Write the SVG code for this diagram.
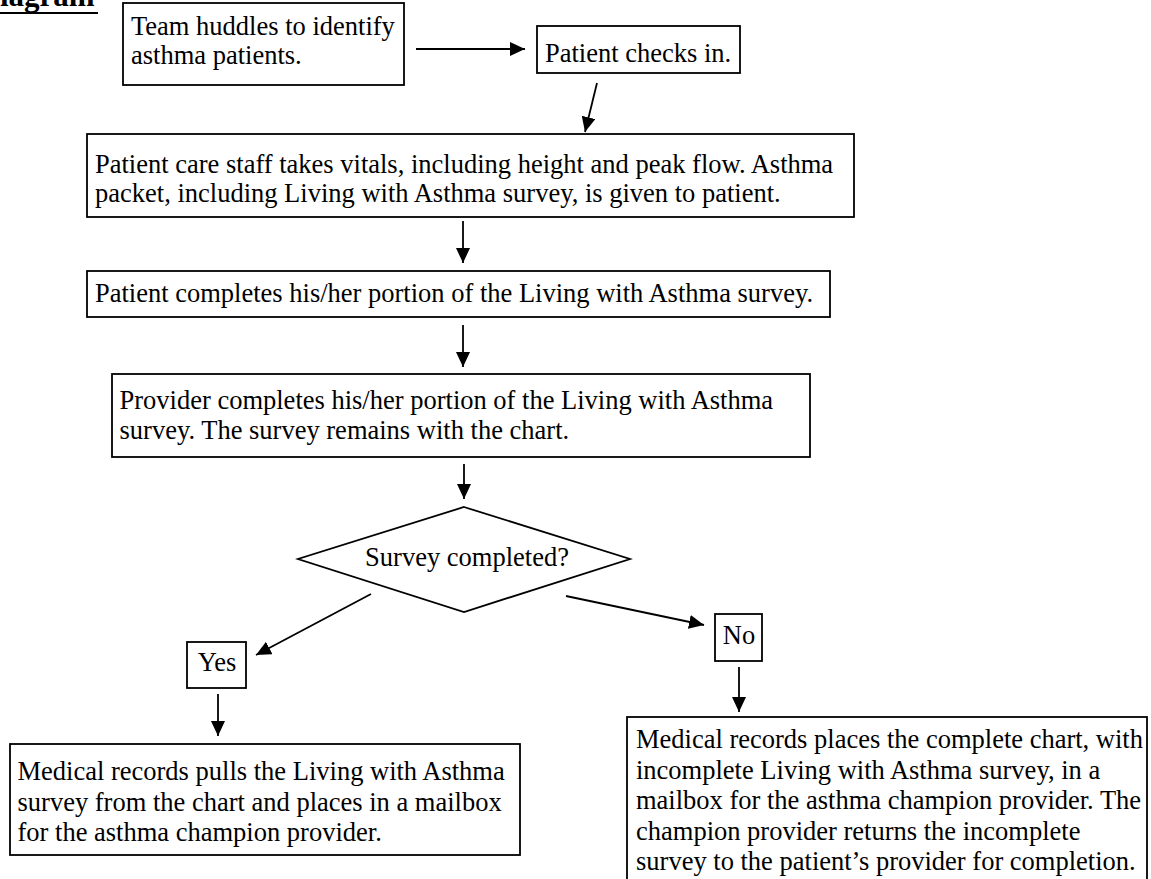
<svg xmlns="http://www.w3.org/2000/svg" width="1151" height="879" viewBox="0 0 1151 879">
<style>
  .box { fill: #fff; stroke: #000; stroke-width: 1.8; }
  .t { font-family: "Liberation Serif", "Times New Roman", serif; font-size: 26.5px; fill: #000; }
  .conn { stroke: #000; stroke-width: 1.8; fill: none; marker-end: url(#arr); }
  .title { font-family: "Liberation Serif", "Times New Roman", serif; font-size: 31px; font-weight: bold; fill: #000; }
</style>
<defs>
  <marker id="arr" markerUnits="userSpaceOnUse" markerWidth="16" markerHeight="14" refX="15" refY="7" orient="auto">
    <path d="M0,0 L15,7 L0,14 z" fill="#000"/>
  </marker>
</defs>
<rect x="0" y="0" width="1151" height="879" fill="#fff"/>

<g id="title">
  <text class="title" x="0" y="6">iagram</text>
  <line x1="0" y1="13" x2="98" y2="13" stroke="#000" stroke-width="2"/>
</g>

<g id="connectors">
  <line class="conn" x1="416" y1="49" x2="525" y2="49"/>
  <line class="conn" x1="597" y1="83" x2="585" y2="132"/>
  <line class="conn" x1="463" y1="221" x2="463" y2="263"/>
  <line class="conn" x1="463" y1="325" x2="463" y2="367"/>
  <line class="conn" x1="464" y1="464" x2="464" y2="499"/>
  <line class="conn" x1="371" y1="594" x2="256" y2="655"/>
  <line class="conn" x1="566" y1="596" x2="704" y2="625"/>
  <line class="conn" x1="218" y1="694" x2="218" y2="736"/>
  <line class="conn" x1="739" y1="667" x2="739" y2="712"/>
</g>

<g id="n1">
  <rect class="box" x="123" y="3" width="281" height="82"/>
  <text class="t" x="131" y="35">Team huddles to identify</text>
  <text class="t" x="131" y="64">asthma patients.</text>
</g>

<g id="n2">
  <rect class="box" x="537" y="26" width="203" height="47"/>
  <text class="t" x="545" y="62">Patient checks in.</text>
</g>

<g id="n3">
  <rect class="box" x="87" y="134" width="767" height="83"/>
  <text class="t" x="95" y="173">Patient care staff takes vitals, including height and peak flow. Asthma</text>
  <text class="t" x="95" y="202">packet, including Living with Asthma survey, is given to patient.</text>
</g>

<g id="n4">
  <rect class="box" x="87" y="271" width="743" height="46"/>
  <text class="t" x="95" y="302">Patient completes his/her portion of the Living with Asthma survey.</text>
</g>

<g id="n5">
  <rect class="box" x="112" y="374" width="698" height="83"/>
  <text class="t" x="119.5" y="408.5">Provider completes his/her portion of the Living with Asthma</text>
  <text class="t" x="119.5" y="439">survey. The survey remains with the chart.</text>
</g>

<g id="decision">
  <polygon class="box" points="464,507 630,559 464,612 298,559"/>
  <text class="t" x="467" y="566" text-anchor="middle">Survey completed?</text>
</g>

<g id="yes">
  <rect class="box" x="187" y="642" width="59" height="46"/>
  <text class="t" x="217" y="671" text-anchor="middle">Yes</text>
</g>

<g id="no">
  <rect class="box" x="715" y="614" width="47" height="47"/>
  <text class="t" x="739" y="644" text-anchor="middle">No</text>
</g>

<g id="n6">
  <rect class="box" x="10" y="744" width="510" height="111"/>
  <text class="t" x="17.5" y="780">Medical records pulls the Living with Asthma</text>
  <text class="t" x="17.5" y="810.5">survey from the chart and places in a mailbox</text>
  <text class="t" x="17.5" y="841">for the asthma champion provider.</text>
</g>

<g id="n7">
  <rect class="box" x="627" y="717" width="520" height="180"/>
  <text class="t" x="636" y="748">Medical records places the complete chart, with</text>
  <text class="t" x="636" y="778.5">incomplete Living with Asthma survey, in a</text>
  <text class="t" x="636" y="809">mailbox for the asthma champion provider. The</text>
  <text class="t" x="636" y="839.5">champion provider returns the incomplete</text>
  <text class="t" x="636" y="870">survey to the patient’s provider for completion.</text>
</g>
</svg>
